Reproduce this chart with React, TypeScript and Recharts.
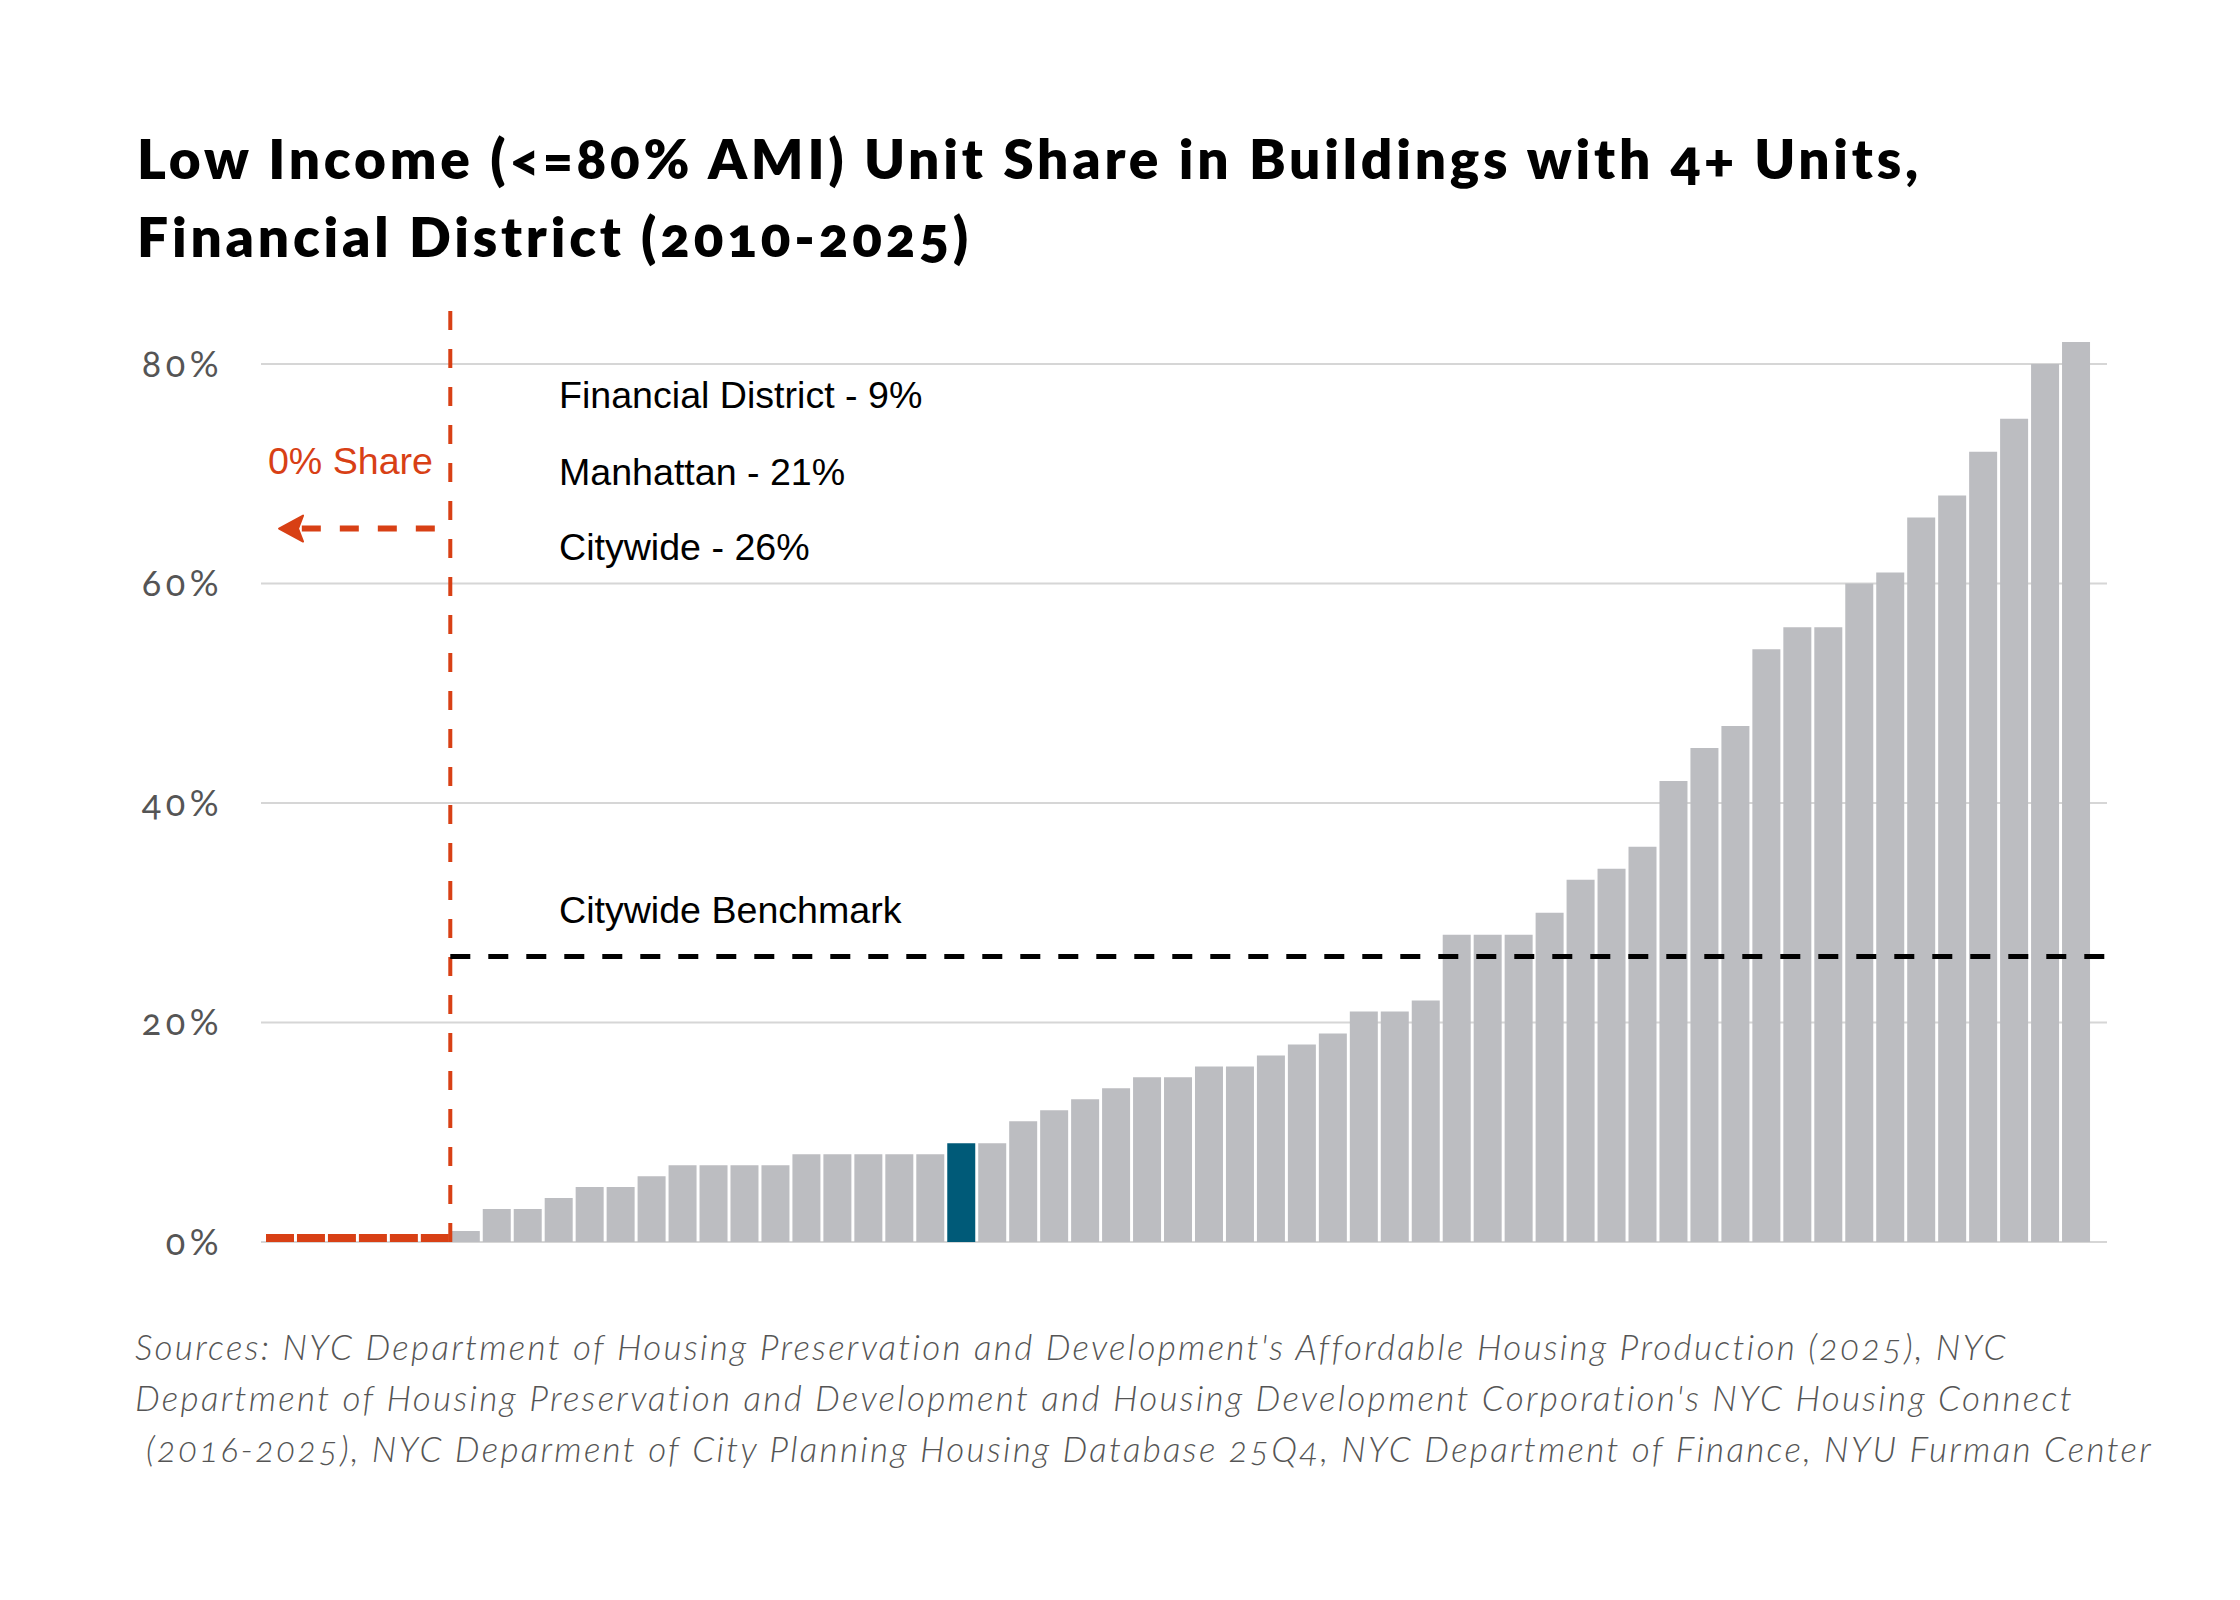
import React from 'react';
import { BarChart, Bar, XAxis, YAxis, CartesianGrid, ReferenceLine, Cell } from 'recharts';

// ---------- data ----------
const titleLines = [
  'Low Income (<=80% AMI) Unit Share in Buildings with 4+ Units,',
  'Financial District (2010-2025)',
];

const sourceLines = [
  "Sources: NYC Department of Housing Preservation and Development's Affordable Housing Production (2025), NYC",
  "Department of Housing Preservation and Development and Housing Development Corporation's NYC Housing Connect",
  ' (2016-2025), NYC Deparment of City Planning Housing Database 25Q4, NYC Department of Finance, NYU Furman Center',
];

// low income unit share (%) per neighborhood, sorted ascending
const shares = [
  0, 0, 0, 0, 0, 0,
  1, 3, 3, 4, 5, 5, 6, 7, 7, 7, 7, 8, 8, 8, 8, 8,
  9, 9, 11, 12, 13, 14, 15, 15, 16, 16, 17, 18, 19, 21, 21, 22,
  28, 28, 28, 30, 33, 34, 36, 42, 45, 47, 54, 56, 56, 60, 61, 66, 68, 72, 75, 80, 82,
];
const highlightName = 'Financial District';
const highlightIndex = 22;
const categories = shares.map((_, i) => (i === highlightIndex ? highlightName : `Area ${i + 1}`));

const summaryLabels = ['Financial District - 9%', 'Manhattan - 21%', 'Citywide - 26%'];
const benchmarkLabel = 'Citywide Benchmark';
const citywideBenchmark = 26;
const zeroShareLabel = '0% Share';
const zeroShareArrowLevel = 65;
const zeroShareArrowFrom = 5.5;
const zeroShareArrowTo = 0.47;
const yTicks = [0, 20, 40, 60, 80];
const yDomain = [0, 85];

// ---------- style ----------
const ORANGE = '#d84015';
const BLUE = '#005a78';
const GRAY = '#bcbdc1';
const GRID = '#d6d6d6';
const TEXT_GRAY = '#555555';

const CHART_W = 2240;
const CHART_H = 1300;
const MARGIN = { top: 309, right: 133, bottom: 58, left: 0 };
const Y_AXIS_W = 261;
const PAD_L = 3.5;
const PAD_R = 15.5;

// rank = cumulative count of neighborhoods up to and including this one
const data = shares.map((v, i) => ({ name: categories[i], share: v, rank: i + 1 }));
const zeroCount = shares.filter((v) => v === 0).length;

const plotW = CHART_W - MARGIN.left - MARGIN.right - Y_AXIS_W;
const band = (plotW - PAD_L - PAD_R) / shares.length;
const numDomain = [-PAD_L / band, shares.length + PAD_R / band];

const oldstyle = { fontVariantNumeric: 'oldstyle-nums', fontFeatureSettings: '"onum" 1' } as any;

const YTick = (props: any) => {
  const { x, y, payload } = props;
  return (
    <text
      x={x}
      y={y}
      dy="0.36em"
      textAnchor="end"
      fill={TEXT_GRAY}
      fontSize={36}
      fontFamily="Lato"
      style={{ ...oldstyle, letterSpacing: 4.5 }}
    >
      {`${payload.value}%`}
    </text>
  );
};

const ArrowShape = (props: any) => {
  const { x1, y1, x2, y2 } = props;
  if (x1 == null || x2 == null) return null;
  const head = 24;
  const half = 13;
  return (
    <g>
      <line
        x1={x1}
        y1={y1}
        x2={x2 + head - 2}
        y2={y2}
        stroke={ORANGE}
        strokeWidth={6}
        strokeDasharray="19 19"
      />
      <path
        d={`M${x2},${y2} L${x2 + head},${y2 - half} L${x2 + head - 5},${y2} L${x2 + head},${y2 + half} Z`}
        fill={ORANGE}
        stroke={ORANGE}
        strokeWidth={2}
        strokeLinejoin="round"
      />
    </g>
  );
};

export default function App() {
  return (
    <div style={{ position: 'absolute', left: 0, top: 0, width: 2240, height: 1600, background: '#fff' }}>
      <div style={{ position: 'absolute', left: 0, top: 0 }}>
        <BarChart width={CHART_W} height={CHART_H} data={data} margin={MARGIN} barCategoryGap={1.5}>
          <CartesianGrid vertical={false} stroke={GRID} strokeWidth={2} horizontalValues={yTicks} />
          <XAxis dataKey="name" hide padding={{ left: PAD_L, right: PAD_R }} />
          <XAxis
            xAxisId="num"
            dataKey="rank"
            type="number"
            domain={numDomain}
            hide
            allowDataOverflow
          />
          <YAxis
            domain={yDomain}
            ticks={yTicks}
            width={Y_AXIS_W}
            axisLine={false}
            tickLine={false}
            tickSize={0}
            tickMargin={38}
            tick={<YTick />}
            allowDataOverflow
          />
          <Bar dataKey="share" isAnimationActive={false} minPointSize={8}>
            {data.map((d, i) => (
              <Cell key={i} fill={d.share === 0 ? ORANGE : d.name === highlightName ? BLUE : GRAY} />
            ))}
          </Bar>
          <ReferenceLine
            xAxisId="num"
            x={zeroCount}
            stroke={ORANGE}
            strokeWidth={4}
            strokeDasharray="19 19"
          />
          <ReferenceLine
            xAxisId="num"
            ifOverflow="visible"
            segment={[
              { x: zeroCount, y: citywideBenchmark },
              { x: numDomain[1], y: citywideBenchmark },
            ]}
            stroke="#000"
            strokeWidth={5}
            strokeDasharray="20 18"
          />
          <ReferenceLine
            xAxisId="num"
            ifOverflow="visible"
            segment={[
              { x: zeroShareArrowFrom, y: zeroShareArrowLevel },
              { x: zeroShareArrowTo, y: zeroShareArrowLevel },
            ]}
            shape={<ArrowShape />}
          />
        </BarChart>
      </div>
      <svg
        width={2240}
        height={1600}
        style={{ position: 'absolute', left: 0, top: 0, pointerEvents: 'none' }}
      >
        {titleLines.map((t, i) => (
          <text
            key={t}
            x={137}
            y={179 + i * 78}
            fontFamily="Lato"
            fontWeight={800}
            fontSize={55}
            fill="#000"
            style={{ ...oldstyle, letterSpacing: 3.8 }}
          >
            {t}
          </text>
        ))}
        {summaryLabels.map((t, i) => (
          <text
            key={t}
            x={559}
            y={[408, 485, 560][i]}
            fontFamily="Liberation Sans"
            fontSize={37.6}
            fill="#000"
          >
            {t}
          </text>
        ))}
        <text x={559} y={923} fontFamily="Liberation Sans" fontSize={37.6} fill="#000">
          {benchmarkLabel}
        </text>
        <text x={433} y={474} textAnchor="end" fontFamily="Liberation Sans" fontSize={37.6} fill={ORANGE}>
          {zeroShareLabel}
        </text>
        {sourceLines.map((t, i) => (
          <text
            key={i}
            x={135}
            y={1360 + i * 51}
            fontFamily="Lato"
            fontStyle="italic"
            fontWeight={300}
            fontSize={35}
            fill={TEXT_GRAY}
            xmlSpace="preserve"
            style={{ ...oldstyle, whiteSpace: 'pre', letterSpacing: 2.3 }}
          >
            {t}
          </text>
        ))}
      </svg>
    </div>
  );
}
